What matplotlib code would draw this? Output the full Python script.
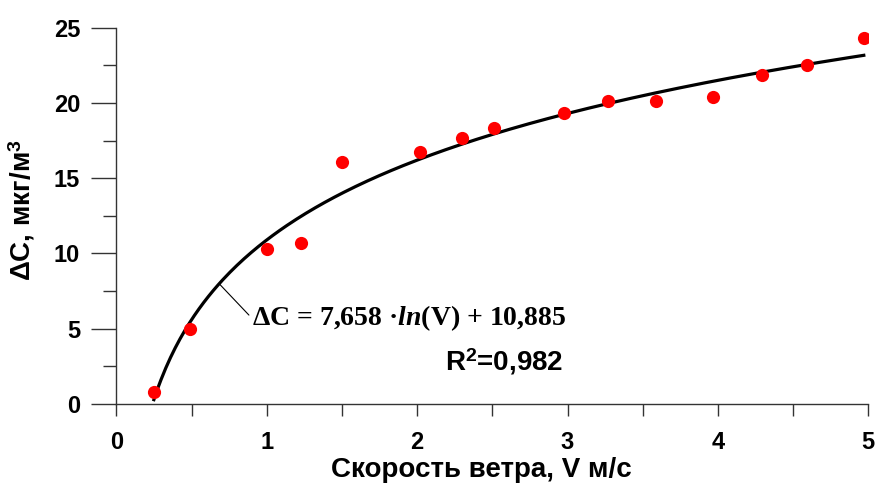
import numpy as np
import matplotlib
matplotlib.use("Agg")
import matplotlib.pyplot as plt
from matplotlib.ticker import MultipleLocator

# ---- data ----
speed = [0.25, 0.49, 1.00, 1.23, 1.50, 2.02, 2.30, 2.51, 2.98, 3.27, 3.59, 3.97, 4.29, 4.59, 4.97]
delta_c = [0.75, 5.0, 10.3, 10.7, 16.1, 16.75, 17.65, 18.3, 19.35, 20.1, 20.1, 20.4, 21.85, 22.5, 24.3]
fit_a = 7.658
fit_b = 10.885
r2_text = "0,982"
x_ticks = [0, 1, 2, 3, 4, 5]
y_ticks = [0, 5, 10, 15, 20, 25]
x_label = "Скорость ветра, V м/с"
y_label = "ΔC, мкг/м$^{3}$"
eq_text = "ΔC = 7,658 ·$\\mathit{ln}$(V) + 10,885"

plt.rcParams['font.family'] = ['Liberation Sans', 'DejaVu Sans']
plt.rcParams['mathtext.fontset'] = 'custom'
plt.rcParams['mathtext.rm'] = 'Liberation Sans:bold'
plt.rcParams['mathtext.bf'] = 'Liberation Sans:bold'
plt.rcParams['mathtext.it'] = 'Liberation Serif:italic:bold'

W, H = 878, 483
fig = plt.figure(figsize=(W / 100, H / 100), dpi=100)
ax = fig.add_axes([116.3 / W, 1 - 403.7 / H, 752 / W, 376 / H])

# trend line over data range
xv = np.linspace(min(speed), max(speed), 300)
ax.plot(xv, fit_a * np.log(xv) + fit_b, color='black', lw=2.3, zorder=2)
ax.plot(speed, delta_c, 'o', color='#ff0000', ms=9.5, mec='none', zorder=3)

ax.set_xlim(0, 5)
ax.set_ylim(0, 25)
ax.set_xticks(x_ticks)
ax.set_yticks(y_ticks)
ax.xaxis.set_minor_locator(MultipleLocator(0.5))
ax.yaxis.set_minor_locator(MultipleLocator(2.5))

for s in ['top', 'right']:
    ax.spines[s].set_visible(False)
for s in ['left', 'bottom']:
    ax.spines[s].set_color('#333333')
    ax.spines[s].set_linewidth(1.0)

ax.tick_params(axis='y', which='major', direction='out', length=18, width=1.0,
               color='#333333', pad=8, labelsize=17)
ax.tick_params(axis='y', which='minor', direction='out', length=9.4, width=1.0, color='#333333')
ax.tick_params(axis='x', which='both', direction='out', length=8.6, width=1.0, color='#333333')
ax.tick_params(axis='x', which='major', pad=11, labelsize=17)
for lab in ax.get_xticklabels() + ax.get_yticklabels():
    lab.set_fontweight('bold')

ax.set_xlabel(x_label, fontsize=20, fontweight='bold')
ax.xaxis.set_label_coords(0.485, -0.142)
ax.set_ylabel(y_label, fontsize=20, fontweight='bold')
ax.yaxis.set_label_coords(-0.105, 0.514)

x0 = 0.684
ax.annotate(eq_text, xy=(x0, fit_a * np.log(x0) + fit_b),
            xytext=(251.7 / W, 1 - 325 / H), textcoords='figure fraction',
            ha='left', va='baseline', fontsize=20, fontweight='bold',
            family=['Liberation Serif', 'DejaVu Serif'],
            arrowprops=dict(arrowstyle='-', lw=0.8, color='black',
                            shrinkA=0, shrinkB=0, relpos=(0, 0.5)))

fig.text(445 / W, 1 - 370.7 / H, "R$^{2}$=" + r2_text, ha='left', va='baseline',
         fontsize=20, fontweight='bold')

fig.savefig("out.png", dpi=100)
